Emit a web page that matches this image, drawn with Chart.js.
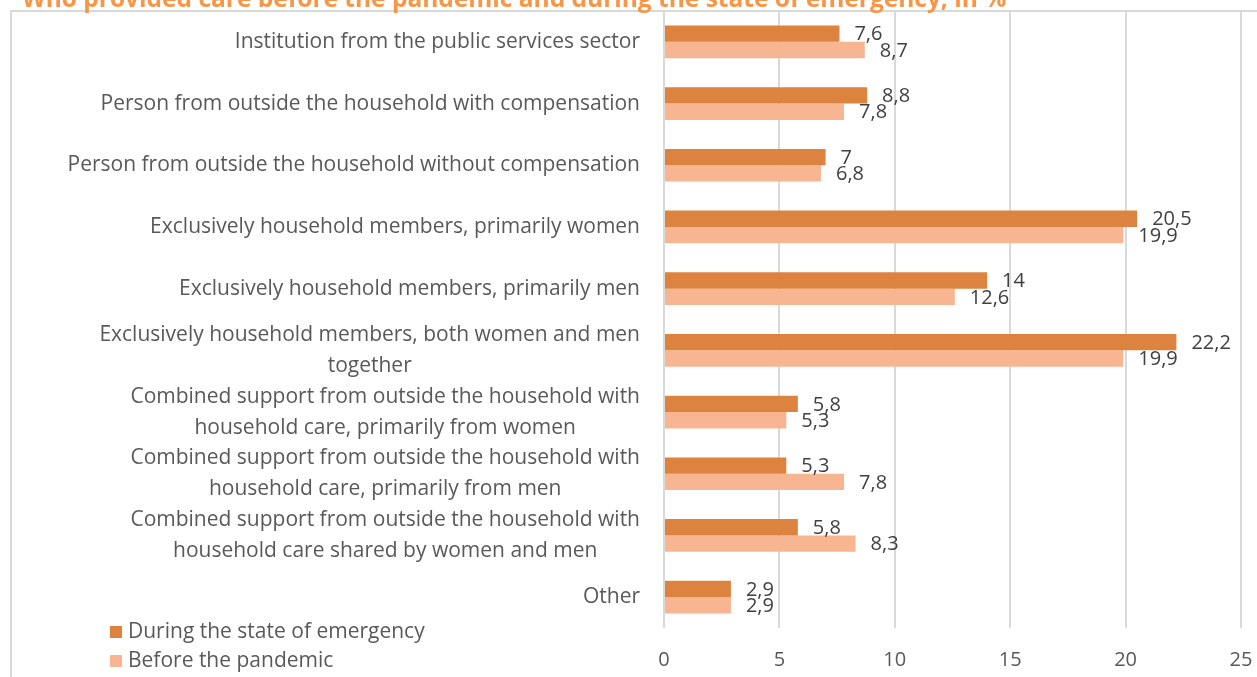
<!DOCTYPE html>
<html lang="en">
<head>
<meta charset="UTF-8">
<title>Who provided care</title>
<script src="https://cdn.jsdelivr.net/npm/chart.js"></script>
<style>
  html, body { margin: 0; padding: 0; background: #ffffff; }
  #wrap { width: 1257px; height: 677px; }
</style>
</head>
<body>
<div id="wrap"><canvas id="careChart" width="1257" height="677"></canvas></div>

<script>
const chartTitle = 'Who provided care before the pandemic and during the state of emergency, in %';

// category labels, one array entry per line
const categories = [
  ['Institution from the public services sector'],
  ['Person from outside the household with compensation'],
  ['Person from outside the household without compensation'],
  ['Exclusively household members, primarily women'],
  ['Exclusively household members, primarily men'],
  ['Exclusively household members, both women and men', 'together'],
  ['Combined support from outside the household with', 'household care, primarily from women'],
  ['Combined support from outside the household with', 'household care, primarily from men'],
  ['Combined support from outside the household with', 'household care shared by women and men'],
  ['Other']
];

const seriesNames = ['During the state of emergency', 'Before the pandemic'];
const duringEmergency = [7.6, 8.8, 7, 20.5, 14, 22.2, 5.8, 5.3, 5.8, 2.9];
const beforePandemic = [8.7, 7.8, 6.8, 19.9, 12.6, 19.9, 5.3, 7.8, 8.3, 2.9];
const xTicks = [0, 5, 10, 15, 20, 25];

const darkOrange = '#DC833F';
const lightOrange = '#F8B592';
const textGrey = '#595959';
const FONT = '"Open Sans", sans-serif';
const LABEL_FS = 21;
const VALUE_FS = 20;

const fmt = v => String(v).replace('.', ',');

// frame, title, category labels, value labels and legend
const decorations = {
  id: 'decorations',
  beforeDraw(chart) {
    const ctx = chart.ctx;
    ctx.save();
    ctx.fillStyle = '#ffffff';
    ctx.fillRect(0, 0, chart.width, chart.height);
    ctx.strokeStyle = '#D9D9D9';
    ctx.lineWidth = 2;
    ctx.beginPath();
    ctx.moveTo(11, chart.height);
    ctx.lineTo(11, 11);
    ctx.lineTo(chart.width, 11);
    ctx.stroke();
    ctx.restore();
  },
  afterDatasetsDraw(chart) {
    const ctx = chart.ctx;
    ctx.save();
    ctx.font = `${VALUE_FS}px ${FONT}`;
    ctx.fillStyle = '#404040';
    ctx.textAlign = 'left';
    ctx.textBaseline = 'middle';
    chart.data.datasets.forEach((ds, di) => {
      chart.getDatasetMeta(di).data.forEach((bar, i) => {
        ctx.fillText(fmt(ds.data[i]), bar.x + 15, bar.y + 1);
      });
    });
    ctx.restore();
  },
  afterDraw(chart) {
    const ctx = chart.ctx;
    const yScale = chart.scales.y;
    ctx.save();

    // title, partly cut off by the top edge
    ctx.font = `bold 24.5px ${FONT}`;
    ctx.fillStyle = '#F79646';
    ctx.textAlign = 'left';
    ctx.textBaseline = 'alphabetic';
    ctx.fillText(chartTitle, 22, 7);

    // category labels: lines centred within a right-aligned block
    ctx.font = `${LABEL_FS}px ${FONT}`;
    ctx.fillStyle = textGrey;
    ctx.textAlign = 'center';
    ctx.textBaseline = 'middle';
    const lineH = 31;
    categories.forEach((lines, i) => {
      const cy = yScale.getPixelForTick(i);
      const w = Math.max(...lines.map(l => ctx.measureText(l).width));
      const cx = 640 - w / 2;
      lines.forEach((l, k) => {
        ctx.fillText(l, cx, cy + (k - (lines.length - 1) / 2) * lineH);
      });
    });

    // legend
    ctx.textAlign = 'left';
    const rows = [[darkOrange, seriesNames[0], 632], [lightOrange, seriesNames[1], 661]];
    rows.forEach(([c, label, y]) => {
      ctx.fillStyle = c;
      ctx.fillRect(110, y - 6, 12, 12);
      ctx.fillStyle = textGrey;
      ctx.fillText(label, 128, y);
    });
    ctx.restore();
  }
};

new Chart(document.getElementById('careChart'), {
  type: 'bar',
  data: {
    labels: categories,
    datasets: [
      { label: seriesNames[0], data: duringEmergency, backgroundColor: darkOrange },
      { label: seriesNames[1], data: beforePandemic, backgroundColor: lightOrange }
    ]
  },
  options: {
    indexAxis: 'y',
    responsive: false,
    animation: false,
    events: [],
    categoryPercentage: 0.53,
    barPercentage: 1,
    layout: { padding: { top: 11, right: 16, left: 0, bottom: 0 } },
    plugins: {
      legend: { display: false },
      title: { display: false },
      tooltip: { enabled: false }
    },
    scales: {
      y: {
        grid: { display: false },
        border: { display: false },
        ticks: { display: false },
        afterFit(scale) { scale.width = 664; }
      },
      x: {
        min: xTicks[0],
        max: xTicks[xTicks.length - 1],
        afterBuildTicks(scale) { scale.ticks = xTicks.map(v => ({ value: v })); },
        grid: { color: '#D9D9D9', lineWidth: 2, drawTicks: false },
        border: { display: false },
        ticks: {
          color: textGrey,
          font: { family: FONT, size: VALUE_FS },
          padding: 20
        },
        afterFit(scale) {
          scale.height = 49;
          scale.paddingLeft = 0;
          scale.paddingRight = 0;
        }
      }
    }
  },
  plugins: [decorations]
});
</script>
</body>
</html>
